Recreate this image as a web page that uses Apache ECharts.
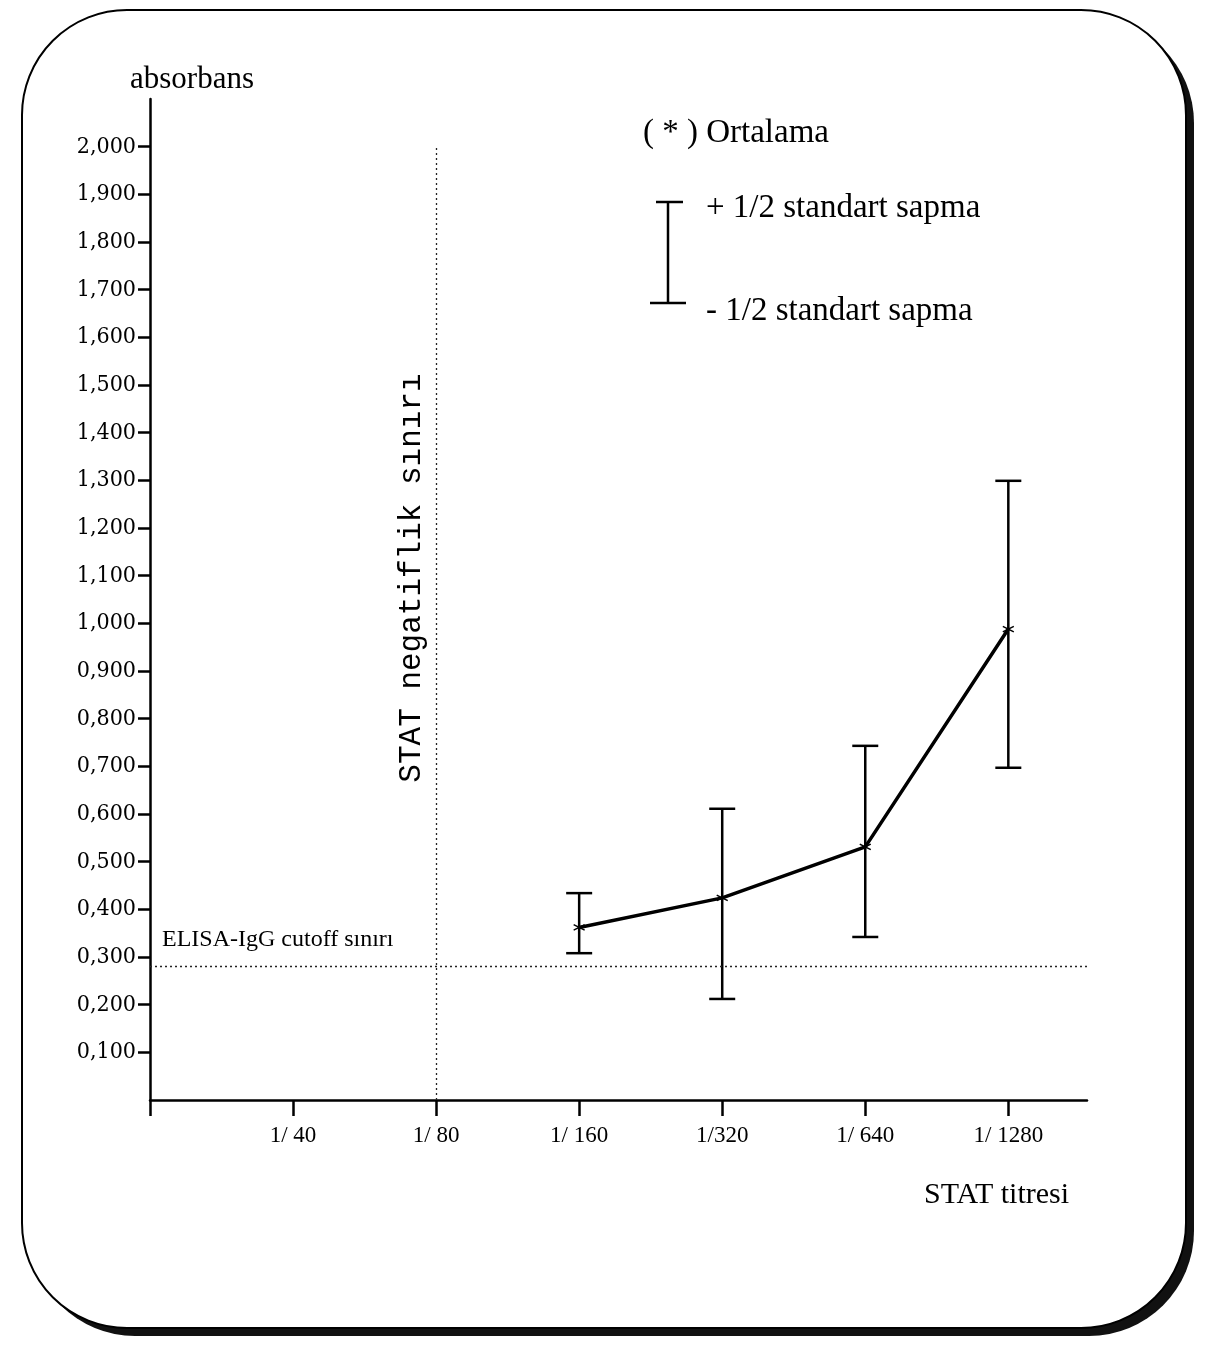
<!DOCTYPE html>
<html>
<head>
<meta charset="UTF-8">
<script src="https://cdn.jsdelivr.net/npm/echarts@6/dist/echarts.min.js"></script>
<title>STAT titresi - absorbans</title>
<style>
html, body {
	margin: 0;
	padding: 0;
	background: #ffffff;
}

#main {
	width: 1218px;
	height: 1345px;
}
</style>
</head>
<body>
	<div id="main"></div>
	<script>
		// x ekseni: titre kategorileri (0 = orijin)
		var titreLabels = [ '', '1/ 40', '1/ 80', '1/ 160', '1/320', '1/ 640', '1/ 1280' ];
		// y ekseni tick degerleri
		var yTicks = [ 0.1, 0.2, 0.3, 0.4, 0.5, 0.6, 0.7, 0.8, 0.9, 1.0,
				1.1, 1.2, 1.3, 1.4, 1.5, 1.6, 1.7, 1.8, 1.9, 2.0 ];

		// olculen titreler (titreLabels icindeki sira)
		var pointIdx = [ 3, 4, 5, 6 ];
		// ortalama absorbans
		var meanValues = [ 0.362, 0.424, 0.531, 0.988 ];
		// + 1/2 standart sapma
		var upperValues = [ 0.434, 0.611, 0.743, 1.299 ];
		// - 1/2 standart sapma
		var lowerValues = [ 0.308, 0.212, 0.342, 0.697 ];

		var cutoffValue = 0.28;   // ELISA-IgG cutoff siniri
		var negLimitIdx = 2;      // STAT negatiflik siniri (1/80)

		var serif = '"Liberation Serif", "Times New Roman", serif';

		var meanData = pointIdx.map(function(x, i) {
			return [ x, meanValues[i] ];
		});
		var barData = pointIdx.map(function(x, i) {
			return [ x, lowerValues[i], upperValues[i] ];
		});

		function renderErrorBar(params, api) {
			var x = api.value(0);
			var lo = api.coord([ x, api.value(1) ]);
			var hi = api.coord([ x, api.value(2) ]);
			var hw = 13;
			var st = {
				stroke : '#000',
				lineWidth : 2.5
			};
			return {
				type : 'group',
				children : [ {
					type : 'line',
					shape : { x1 : hi[0], y1 : hi[1], x2 : lo[0], y2 : lo[1] },
					style : st
				}, {
					type : 'line',
					shape : { x1 : hi[0] - hw, y1 : hi[1], x2 : hi[0] + hw, y2 : hi[1] },
					style : st
				}, {
					type : 'line',
					shape : { x1 : lo[0] - hw, y1 : lo[1], x2 : lo[0] + hw, y2 : lo[1] },
					style : st
				} ]
			};
		}

		var option = {
			animation : false,
			backgroundColor : '#ffffff',
			grid : {
				left : 150,
				top : 99,
				width : 937,
				height : 1001
			},
			xAxis : {
				type : 'value',
				min : 0,
				max : 6.55,
				interval : 1,
				splitLine : { show : false },
				axisLine : {
					onZero : false,
					lineStyle : { color : '#000', width : 2.5 }
				},
				axisTick : {
					show : true,
					length : 16,
					customValues : [ 0, 1, 2, 3, 4, 5, 6 ],
					lineStyle : { color : '#000', width : 2.5 }
				},
				axisLabel : {
					customValues : [ 1, 2, 3, 4, 5, 6 ],
					margin : 24,
					color : '#000',
					fontFamily : serif,
					fontSize : 23,
					formatter : function(v) {
						return titreLabels[Math.round(v)] || '';
					}
				}
			},
			yAxis : {
				type : 'value',
				min : 0,
				max : 2.1,
				interval : 0.1,
				splitLine : { show : false },
				axisLine : {
					onZero : false,
					lineStyle : { color : '#000', width : 2.5 }
				},
				axisTick : {
					show : true,
					length : 12,
					customValues : yTicks,
					lineStyle : { color : '#000', width : 2.5 }
				},
				axisLabel : {
					customValues : yTicks,
					margin : 14,
					color : '#000',
					fontFamily : '"DejaVu Serif Condensed", "Liberation Serif", serif',
					fontSize : 23,
					formatter : function(v) {
						return v.toFixed(3).replace('.', ',');
					}
				}
			},
			graphic : [ {
				// cerceve golgesi
				type : 'rect',
				z : -20,
				shape : { x : 30, y : 18, width : 1164, height : 1318, r : 105 },
				style : { fill : '#111' }
			}, {
				// yuvarlak koseli cerceve
				type : 'rect',
				z : -10,
				shape : { x : 22, y : 10, width : 1164, height : 1318, r : 105 },
				style : { fill : '#fff', stroke : '#000', lineWidth : 2 }
			}, {
				type : 'text',
				left : 130,
				top : 64,
				style : { text : 'absorbans', fontFamily : serif, fontSize : 31, fill : '#000' }
			}, {
				type : 'text',
				left : 924,
				top : 1180,
				style : { text : 'STAT titresi', fontFamily : serif, fontSize : 30, fill : '#000' }
			}, {
				type : 'text',
				left : 162,
				top : 928,
				style : { text : 'ELISA-IgG cutoff sınırı', fontFamily : serif, fontSize : 24, fill : '#000' }
			}, {
				type : 'text',
				x : 412,
				y : 578,
				rotation : Math.PI / 2,
				style : {
					text : 'STAT negatiflik sınırı',
					fontFamily : '"Liberation Mono", "Courier New", monospace',
					fontSize : 31,
					fill : '#000',
					align : 'center',
					verticalAlign : 'middle'
				}
			}, {
				type : 'text',
				left : 643,
				top : 117,
				style : { text : '( * ) Ortalama', fontFamily : serif, fontSize : 33, fill : '#000' }
			}, {
				type : 'text',
				left : 706,
				top : 192,
				style : { text : '+ 1/2 standart sapma', fontFamily : serif, fontSize : 33, fill : '#000' }
			}, {
				type : 'text',
				left : 706,
				top : 295,
				style : { text : '- 1/2 standart sapma', fontFamily : serif, fontSize : 33, fill : '#000' }
			}, {
				// lejant hata cubugu simgesi
				type : 'group',
				children : [ {
					type : 'line',
					shape : { x1 : 668, y1 : 202, x2 : 668, y2 : 303 },
					style : { stroke : '#000', lineWidth : 2.5 }
				}, {
					type : 'line',
					shape : { x1 : 656, y1 : 202, x2 : 683, y2 : 202 },
					style : { stroke : '#000', lineWidth : 2.5 }
				}, {
					type : 'line',
					shape : { x1 : 650, y1 : 303, x2 : 686, y2 : 303 },
					style : { stroke : '#000', lineWidth : 2.5 }
				} ]
			} ],
			series : [ {
				type : 'custom',
				renderItem : renderErrorBar,
				encode : { x : 0, y : [ 1, 2 ] },
				data : barData,
				z : 3
			}, {
				type : 'line',
				data : meanData,
				symbol : 'path://M5,0L5,10M0.7,2.5L9.3,7.5M0.7,7.5L9.3,2.5',
				symbolSize : 11,
				itemStyle : { color : 'transparent', borderColor : '#000', borderWidth : 1.5 },
				lineStyle : { color : '#000', width : 3.5 },
				z : 4,
				markLine : {
					silent : true,
					symbol : 'none',
					label : { show : false },
					lineStyle : { color : '#222', width : 1.3, type : [ 2, 3 ] },
					data : [ [ { coord : [ negLimitIdx, 0 ] }, { coord : [ negLimitIdx, 2.0 ] } ],
							{ yAxis : cutoffValue } ]
				}
			} ]
		};

		var mychart = echarts.init(document.getElementById('main'));
		mychart.setOption(option);
	</script>
</body>
</html>
